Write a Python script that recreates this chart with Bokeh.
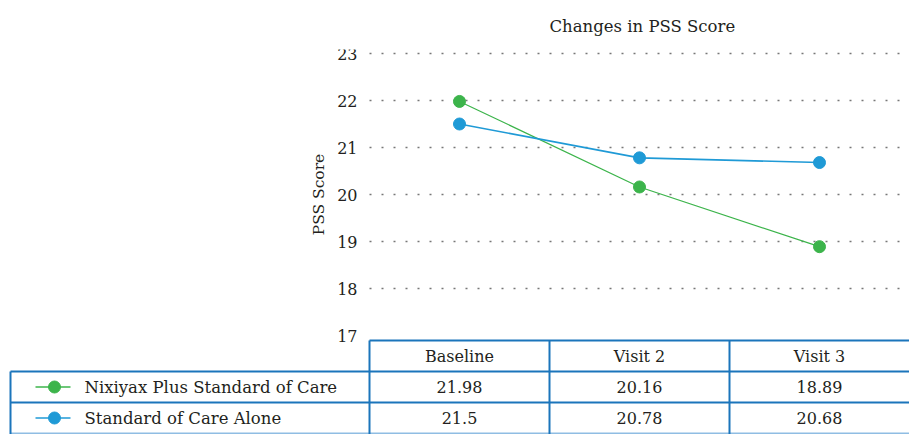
from bokeh.plotting import figure
from bokeh.models import Range1d, FixedTicker
from bokeh.core.properties import value
from bokeh.embed import file_html
from bokeh.resources import INLINE

# ---- data ----
categories = ["Baseline", "Visit 2", "Visit 3"]
series_names = ["Nixiyax Plus Standard of Care", "Standard of Care Alone"]
nixiyax = [21.98, 20.16, 18.89]
standard = [21.5, 20.78, 20.68]
value_labels_nix = ["21.98", "20.16", "18.89"]
value_labels_std = ["21.5", "20.78", "20.68"]
y_ticks = [17, 18, 19, 20, 21, 22, 23]
grid_ticks = [18, 19, 20, 21, 22, 23]

FONT = "DejaVu Serif"
GREEN = "#3cb44b"
BLUE = "#1f9ad6"
BORDER = "#1b75bb"
TXT = "#231f20"

W, H = 909, 434
LEFT = 369              # chart area left edge (px from figure left)
UNIT = (W - LEFT) / 3   # px per category column
X0 = -LEFT / UNIT       # figure left edge in category units
XT = X0 + 10 / UNIT     # table left edge

PX = 47.0               # px per PSS unit
TOP = 49                # px above the plotting frame (title)
y_top = 23 + 4 / PX
y_bot = y_top - (H - TOP) / PX

xs = [i + 0.5 for i in range(len(categories))]

p = figure(width=W, height=H, output_backend="svg", toolbar_location=None,
           x_range=Range1d(X0, 3), y_range=Range1d(y_bot, y_top),
           min_border_left=0, min_border_right=0, min_border_top=TOP, min_border_bottom=0,
           title="Changes in PSS Score")
p.outline_line_color = None
p.background_fill_color = None
p.title.align = "left"
p.title.vertical_align = "top"
p.title.offset = 549
p.title.text_font = FONT
p.title.text_font_size = "16.5px"
p.title.text_font_style = "normal"
p.title.text_color = TXT
p.title.standoff = 23

p.xaxis.visible = False
p.grid.visible = False
ax = p.yaxis[0]
ax.fixed_location = 0
ax.bounds = (17, 23)
ax.ticker = FixedTicker(ticks=y_ticks)
ax.axis_line_color = None
ax.major_tick_line_color = None
ax.minor_tick_line_color = None
ax.major_tick_out = 0
ax.major_tick_in = 0
ax.major_label_standoff = 12
ax.major_label_text_font = FONT
ax.major_label_text_font_size = "16px"
ax.major_label_text_color = TXT
ax.axis_label = "PSS Score"
ax.axis_label_text_font = FONT
ax.axis_label_text_font_size = "15.5px"
ax.axis_label_text_font_style = "normal"
ax.axis_label_text_color = TXT
ax.axis_label_standoff = 6

# dotted gridlines over the chart area
p.segment(x0=[0] * len(grid_ticks), y0=grid_ticks, x1=[3] * len(grid_ticks), y1=grid_ticks,
          line_color="#777777", line_dash="2 10", line_width=1.5)

# series
p.line(xs, nixiyax, line_color=GREEN, line_width=1.2)
p.line(xs, standard, line_color=BLUE, line_width=1.6)
p.scatter(xs, nixiyax, size=12, fill_color=GREEN, line_color=GREEN)
p.scatter(xs, standard, size=12, fill_color=BLUE, line_color=BLUE)

# ---- data table below the chart ----
h_top = 17 - 5 / PX          # header top
h_bot = h_top - 31 / PX      # header bottom / row 1 top
r1_bot = h_bot - 31 / PX     # row 2 top
r2_bot = y_bot + 1 / PX      # table bottom

# horizontal rules
p.segment(x0=[0, XT, XT], y0=[h_top, h_bot, r1_bot], x1=[3, 3, 3], y1=[h_top, h_bot, r1_bot],
          line_color=BORDER, line_width=2)
p.segment(x0=[XT], y0=[r2_bot], x1=[3], y1=[r2_bot], line_color="#8fbde3", line_width=2)
# vertical rules
p.segment(x0=[0, 1, 2], y0=[h_top] * 3, x1=[0, 1, 2], y1=[y_bot] * 3,
          line_color=BORDER, line_width=2)
p.segment(x0=[XT], y0=[h_bot], x1=[XT], y1=[y_bot], line_color=BORDER, line_width=2)

# header
p.text(x=xs, y=[(h_top + h_bot) / 2] * 3, text=categories,
       text_font=value(FONT), text_font_size="16px", text_color=TXT,
       text_align="center", text_baseline="middle")

row_y = [(h_bot + r1_bot) / 2, (r1_bot + r2_bot) / 2]
colors = [GREEN, BLUE]
lx0 = X0 + 35 / UNIT
lx1 = X0 + 70 / UNIT
lxc = X0 + 54 / UNIT
tx = X0 + 84 / UNIT
for ry, col in zip(row_y, colors):
    p.segment(x0=[lx0], y0=[ry], x1=[lx1], y1=[ry], line_color=col, line_width=1.5)
    p.scatter([lxc], [ry], size=12, fill_color=col, line_color=col)
p.text(x=[tx, tx], y=row_y, text=series_names, text_font=value(FONT), text_font_size="16.5px",
       text_color=TXT, text_align="left", text_baseline="middle")
p.text(x=xs, y=[row_y[0]] * 3, text=value_labels_nix, text_font=value(FONT),
       text_font_size="16px", text_color=TXT, text_align="center", text_baseline="middle")
p.text(x=xs, y=[row_y[1]] * 3, text=value_labels_std, text_font=value(FONT),
       text_font_size="16px", text_color=TXT, text_align="center", text_baseline="middle")

open("out.html", "w").write(file_html(p, INLINE))
